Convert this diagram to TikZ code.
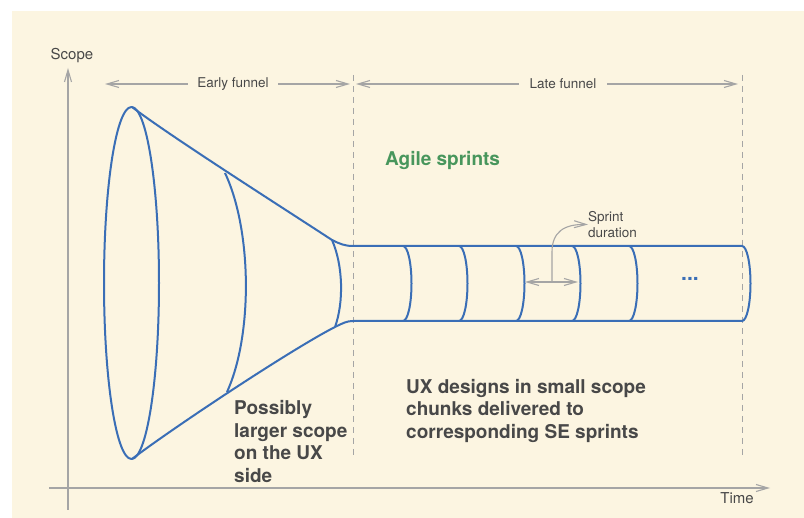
\documentclass[tikz,border=0pt]{standalone}
\usepackage{fontspec}
\setmainfont{TeX Gyre Heros}
\usetikzlibrary{arrows.meta}

\definecolor{cream}{RGB}{252,245,225}
\definecolor{funnelblue}{RGB}{58,110,182}
\definecolor{sprintgreen}{RGB}{72,150,92}
\definecolor{txtgray}{RGB}{72,72,72}
\definecolor{axgray}{RGB}{165,165,165}

\begin{document}
\begin{tikzpicture}[x=1pt,y=-1pt,
  funnel/.style={funnelblue,line width=2pt,line join=round},
  guide/.style={axgray,line width=1.1pt,>={Straight Barb[length=12pt,width=7pt]}},
  phase/.style={axgray,line width=1pt,dash pattern=on 6pt off 5pt},
  smalltxt/.style={txtgray,font=\fontsize{13.5}{15.5}\selectfont,inner sep=0pt},
  bigtxt/.style={txtgray,font=\fontsize{19}{22.5}\selectfont\bfseries,inner sep=0pt,align=left}]

  % page and panel
  \useasboundingbox (0,0) rectangle (804,518);
  \fill[white] (0,0) rectangle (804,518);
  \fill[cream] (12,11) rectangle (804,518);

  % axes
  \coordinate (yfoot) at (68,510);
  \coordinate (ytip) at (68,68);
  \coordinate (xfoot) at (49,488);
  \coordinate (xtip) at (770,488);
  \draw[guide,->] (yfoot) -- (ytip);
  \draw[guide,->] (xfoot) -- (xtip);
  \node[smalltxt,font=\fontsize{15}{17}\selectfont] (scope) at (72,56) {Scope};
  \node[smalltxt,font=\fontsize{15}{17}\selectfont] (time) at (737,498) {Time};

  % phase borders
  \draw[phase] (353,75) -- (353,455);
  \draw[phase] (742,75) -- (742,455);

  % phase spans
  \coordinate (early0) at (105,84);
  \coordinate (early1) at (350,84);
  \coordinate (late0) at (356,84);
  \coordinate (late1) at (738,84);
  \draw[guide,<->] (early0) -- (early1);
  \draw[guide,<->] (late0) -- (late1);
  \node[smalltxt,fill=cream,inner xsep=9pt,inner ysep=2pt] (early) at (233,84) {Early funnel};
  \node[smalltxt,fill=cream,inner xsep=11pt,inner ysep=2pt] (late) at (563,84) {Late funnel};

  % the funnel
  \draw[funnel] (131.5,283) ellipse [x radius=27.5, y radius=176];
  \draw[funnel] (132,107) .. controls (170,136) and (280,206) .. (332,240)
    .. controls (340,244) and (345,246) .. (353,246) -- (742,246);
  \draw[funnel] (132,459) .. controls (170,430) and (290,350) .. (335,327)
    .. controls (343,323) and (347,321) .. (353,321) -- (742,321);
  \draw[funnel] (225,173) .. controls (252,230) and (253,335) .. (227,392);
  \draw[funnel] (332,240) .. controls (343,265) and (344,302) .. (335,327);

  % sprints along the tube
  \foreach \sx in {403,459,516,572,629,742}
    \draw[funnel] (\sx,246) arc[start angle=-90, end angle=90, x radius=8.5, y radius=37.5];
  \node[funnelblue,font=\fontsize{21}{22}\selectfont\bfseries,inner sep=0pt] (more) at (690,279) {...};

  % sprint duration
  \coordinate (dur0) at (525,282);
  \coordinate (dur1) at (578,282);
  \coordinate (durmid) at (552,282);
  \draw[guide,<->] (dur0) -- (dur1);
  \node[smalltxt,anchor=west,align=left] (durtxt) at (588,224.5) {Sprint\\duration};
  \draw[guide,->] (durmid) -- (552,252) .. controls (552,232) and (564,224) .. (durtxt.west);

  % labels
  \node[sprintgreen,font=\fontsize{19}{22}\selectfont\bfseries,inner sep=0pt,anchor=west] (agile) at (385,160) {Agile sprints};
  \node[bigtxt,anchor=west] (uxside) at (234,441.5) {Possibly\\larger scope\\on the UX\\side};
  \node[bigtxt,anchor=west] (chunks) at (406,410.5) {UX designs in small scope\\chunks delivered to\\corresponding SE sprints};
\end{tikzpicture}
\end{document}
